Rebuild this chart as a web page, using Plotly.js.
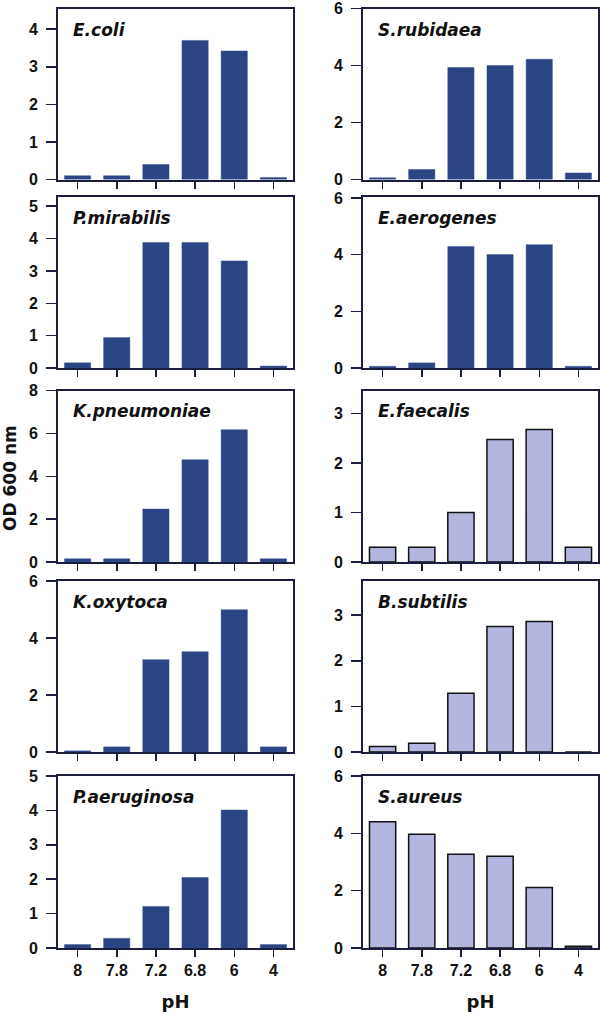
<!DOCTYPE html>
<html>
<head>
<meta charset="utf-8">
<script src="https://cdn.plot.ly/plotly-3.0.1.min.js"></script>
<style>html,body{margin:0;padding:0;background:#fff;}#chart{width:600px;height:1015px;}</style>
</head>
<body>
<div id="chart"></div>
<script>
// ---- data ----
const phLabels = ["8", "7.8", "7.2", "6.8", "6", "4"];
const species = ["E.coli", "S.rubidaea", "P.mirabilis", "E.aerogenes", "K.pneumoniae",
                 "E.faecalis", "K.oxytoca", "B.subtilis", "P.aeruginosa", "S.aureus"];
const eColi       = [0.10, 0.10, 0.40, 3.70, 3.42, 0.05];
const sRubidaea   = [0.06, 0.35, 3.93, 4.00, 4.22, 0.23];
const pMirabilis  = [0.16, 0.94, 3.88, 3.88, 3.31, 0.06];
const eAerogenes  = [0.06, 0.18, 4.29, 4.00, 4.35, 0.06];
const kPneumoniae = [0.15, 0.15, 2.47, 4.77, 6.17, 0.15];
const eFaecalis   = [0.30, 0.30, 1.00, 2.48, 2.68, 0.30];
const kOxytoca    = [0.04, 0.18, 3.24, 3.52, 4.99, 0.18];
const bSubtilis   = [0.12, 0.19, 1.29, 2.75, 2.86, 0.00];
const pAeruginosa = [0.10, 0.28, 1.21, 2.05, 4.01, 0.10];
const sAureus     = [4.40, 3.97, 3.27, 3.20, 2.11, 0.06];
const seriesValues = [eColi, sRubidaea, pMirabilis, eAerogenes, kPneumoniae,
                      eFaecalis, kOxytoca, bSubtilis, pAeruginosa, sAureus];
const gramPositive = [false, false, false, false, false, true, false, true, false, true];
const yMax  = [4.55, 6, 5.3, 6.05, 8, 3.47, 6, 3.75, 5, 6];
const yDtick = [1, 2, 1, 2, 2, 1, 2, 1, 1, 2];
const yTitle = "OD 600 nm";
const xTitle = "pH";

// ---- layout geometry (pixels) ----
const W = 600, H = 1015;
const colX = [[58, 293], [363, 598]];
const rowY = [[8.5, 179.5], [196.5, 368], [390.5, 562], [581, 752], [776, 948]];
const px2x = p => p / W;
const px2y = p => 1 - p / H;

const darkFill = "#2b4484";
const lightFill = "#b3b6df";
const frameColor = "#1a1c40";
const textColor = "#111111";
const tickFont = {size: 16, weight: 700, color: textColor, family: "Liberation Sans, Arial, sans-serif"};

const data = [];
const layout = {
  width: W, height: H,
  margin: {l: 0, r: 0, t: 0, b: 0},
  paper_bgcolor: "#ffffff",
  plot_bgcolor: "#ffffff",
  showlegend: false,
  bargap: 0.33,
  annotations: [],
  font: {family: "Liberation Sans, Arial, sans-serif", color: textColor}
};

species.forEach((name, i) => {
  const row = Math.floor(i / 2), col = i % 2;
  const n = i + 1;
  const xa = "x" + (n === 1 ? "" : n), ya = "y" + (n === 1 ? "" : n);
  const xk = "xaxis" + (n === 1 ? "" : n), yk = "yaxis" + (n === 1 ? "" : n);
  const light = gramPositive[i];
  data.push({
    type: "bar",
    x: phLabels,
    y: seriesValues[i],
    xaxis: xa, yaxis: ya,
    marker: {
      color: light ? lightFill : darkFill,
      line: {color: light ? "#111111" : "#3a5290", width: light ? 1.5 : 0.5}
    },
    hoverinfo: "x+y"
  });
  const bottom = row === 4;
  layout[xk] = {
    domain: [px2x(colX[col][0]), px2x(colX[col][1])],
    anchor: ya,
    type: "category",
    range: [-0.5, 5.5],
    showline: true, mirror: true, linecolor: frameColor, linewidth: 2,
    ticks: "outside", ticklen: 7, tickwidth: 1.5, tickcolor: frameColor,
    showticklabels: bottom,
    tickfont: tickFont,
    showgrid: false, zeroline: false, fixedrange: true
  };
  if (bottom) {
    layout[xk].title = {text: xTitle, standoff: 17,
      font: {size: 18, weight: 700, color: textColor, family: "DejaVu Sans, sans-serif"}};
  }
  layout[yk] = {
    domain: [px2y(rowY[row][1]), px2y(rowY[row][0])],
    anchor: xa,
    range: [0, yMax[i]],
    dtick: yDtick[i], tick0: 0,
    showline: true, mirror: true, linecolor: frameColor, linewidth: 2,
    ticks: "outside", ticklen: 10, tickwidth: 1.5, tickcolor: frameColor,
    tickfont: tickFont,
    ticklabelstandoff: 5,
    showgrid: false, zeroline: false, fixedrange: true
  };
  layout.annotations.push({
    text: name,
    xref: "paper", yref: "paper",
    x: px2x(colX[col][0] + 13), y: px2y(rowY[row][0] + 21),
    xanchor: "left", yanchor: "middle",
    showarrow: false,
    font: {size: 17, weight: 700, style: "italic", color: textColor, family: "DejaVu Sans, sans-serif"}
  });
});

layout.annotations.push({
  text: yTitle,
  xref: "paper", yref: "paper",
  x: px2x(10), y: px2y(478),
  xanchor: "center", yanchor: "middle",
  textangle: -90,
  showarrow: false,
  font: {size: 17, weight: 700, color: textColor, family: "DejaVu Sans, sans-serif"}
});

Plotly.newPlot("chart", data, layout, {displayModeBar: false, staticPlot: true});
</script>
</body>
</html>
